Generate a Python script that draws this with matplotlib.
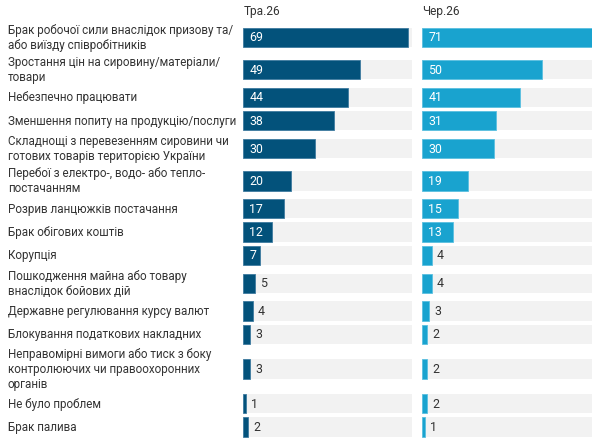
import matplotlib
matplotlib.use("Agg")
import matplotlib.pyplot as plt
from matplotlib.patches import Rectangle

categories = [
    "Брак робочої сили внаслідок призову та/\nабо виїзду співробітників",
    "Зростання цін на сировину/матеріали/\nтовари",
    "Небезпечно працювати",
    "Зменшення попиту на продукцію/послуги",
    "Складнощі з перевезенням сировини чи\nготових товарів територією України",
    "Перебої з електро-, водо- або тепло-\nпостачанням",
    "Розрив ланцюжків постачання",
    "Брак обігових коштів",
    "Корупція",
    "Пошкодження майна або товару\nвнаслідок бойових дій",
    "Державне регулювання курсу валют",
    "Блокування податкових накладних",
    "Неправомірні вимоги або тиск з боку\nконтролюючих чи правоохоронних\nорганів",
    "Не було проблем",
    "Брак палива",
]
series_names = ["Тра.26", "Чер.26"]
may_values = [69, 49, 44, 38, 30, 20, 17, 12, 7, 5, 4, 3, 3, 1, 2]
june_values = [71, 50, 41, 31, 30, 19, 15, 13, 4, 4, 3, 2, 2, 2, 1]

W, H = 602, 445
DPI = 100
fig = plt.figure(figsize=(W / DPI, H / DPI), dpi=DPI)
plt.rcParams['font.family'] = ['Roboto', 'DejaVu Sans']

colors = ["#03527B", "#19A3CF"]
edge_colors = ["#3F7BA0", "#5BC0E0"]
bg_color = "#F2F2F2"
text_dark = "#333333"
fs = 8.4

# row layout (pixels from top)
row_h = {1: 23.35, 2: 32.3, 3: 45.9}
first_top = 21.15
centers = []
y = first_top
for c in categories:
    n = c.count("\n") + 1
    h = row_h[n]
    centers.append(y + h / 2)
    y += h
bar_h = 19.4

vmax = max(max(may_values), max(june_values))
panels = [(243.3, 412.3), (422.3, 591.7)]

for pi, ((x0, x1), vals) in enumerate(zip(panels, [may_values, june_values])):
    ax = fig.add_axes([x0 / W, 0, (x1 - x0) / W, 1])
    ax.set_xlim(0, vmax)
    ax.set_ylim(H, 0)
    ax.axis('off')
    px_per_unit = (x1 - x0) / vmax
    for yc, v in zip(centers, vals):
        ax.add_patch(Rectangle((0, yc - bar_h / 2), vmax, bar_h,
                               facecolor=bg_color, edgecolor='none'))
        ax.barh(yc, v, height=bar_h, color=colors[pi], left=0,
                edgecolor=edge_colors[pi], linewidth=0.6)
        if v * px_per_unit > 14:
            ax.text(6 / px_per_unit, yc + 0.5, str(v), color="white",
                    fontsize=fs + 0.5, va='center', ha='left')
        else:
            ax.text(v + 5 / px_per_unit, yc + 0.5, str(v), color=text_dark,
                    fontsize=fs + 0.5, va='center', ha='left')
    fig.text(x0 / W, 1 - 12 / H, series_names[pi], fontsize=fs + 0.2,
             color=text_dark, va='center', ha='left')

for yc, c in zip(centers, categories):
    fig.text(8 / W, 1 - (yc + 0.5) / H, c, fontsize=fs, color=text_dark,
             va='center', ha='left', linespacing=1.2)

fig.savefig("out.png", dpi=DPI)
